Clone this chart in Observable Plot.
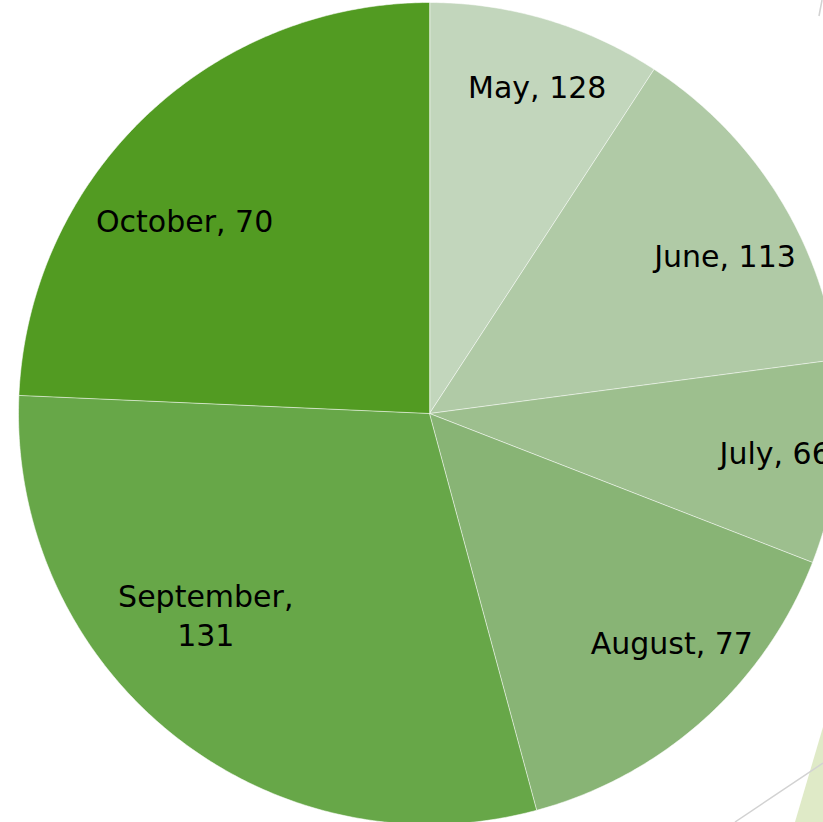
<!DOCTYPE html>
<html>
<head>
<meta charset="utf-8">
<script src="https://cdn.jsdelivr.net/npm/d3@7"></script>
<script src="https://cdn.jsdelivr.net/npm/@observablehq/plot@0.6"></script>
<style>
  html, body { margin: 0; padding: 0; background: #ffffff; overflow: hidden; }
  #wrap { position: relative; width: 823px; height: 822px; overflow: hidden; }
  #deco { position: absolute; left: 0; top: 0; }
  #chart { position: absolute; left: 0; top: 0; }
</style>
</head>
<body>
<div id="wrap">
  <svg id="deco" width="823" height="822" aria-hidden="true">
    <polygon points="795,822 823,727 823,822" fill="#dfeac7"></polygon>
    <line x1="735" y1="822" x2="823" y2="763" stroke="#d2d2d2" stroke-width="1.5"></line>
    <line x1="822" y1="0" x2="819" y2="16" stroke="#d2d2d2" stroke-width="1.5"></line>
  </svg>
  <div id="chart"></div>
</div>
<script>
// ---- data ----
const months = ["May", "June", "July", "August", "September", "October"];
const labelValues = [128, 113, 66, 77, 131, 70];          // numbers printed in the labels
const sliceShares = [9.2, 13.7, 8.0, 14.9, 29.9, 24.3];    // slice sizes (% of the circle)
const sliceColors = ["#c2d6bc", "#b0caa6", "#9dbf8e", "#88b475", "#67a748", "#529b22"];

// ---- build tables ----
const rows = months.map((m, i) => ({ month: m, value: labelValues[i], share: sliceShares[i] }));
const arcs = d3.pie().sort(null).value(d => d.share)(rows);

// polygon outline of each slice in unit-circle coordinates (y up, angle clockwise from 12 o'clock)
const outline = [];
for (const a of arcs) {
  outline.push({ month: a.data.month, x: 0, y: 0 });
  const steps = Math.max(2, Math.ceil((a.endAngle - a.startAngle) / (Math.PI / 360)));
  for (let k = 0; k <= steps; ++k) {
    const t = a.startAngle + (a.endAngle - a.startAngle) * k / steps;
    outline.push({ month: a.data.month, x: Math.sin(t), y: Math.cos(t) });
  }
}

// "best fit" style label placement: wide slices pull their label inward and
// toward the horizontal axis, narrow slices keep it near the rim.
const labels = arcs.map(a => {
  const w = a.endAngle - a.startAngle;                 // slice width (rad)
  const mid = (a.startAngle + a.endAngle) / 2;
  const target = Math.sin(mid) >= 0 ? Math.PI / 2 : 3 * Math.PI / 2;
  const dir = Math.sign(target - mid);
  const t = mid + dir * 0.09 * w * Math.abs(Math.sin(2 * mid));
  const r = 0.888 - 0.0837 * w;
  const name = a.data.month;
  const text = name === "September" ? `${name},\n${a.data.value}` : `${name}, ${a.data.value}`;
  return { month: name, text, x: r * Math.sin(t), y: r * Math.cos(t) };
});

// ---- layout (pie centre and radius in pixels) ----
const W = 823, H = 822, CX = 429, CY = 413, R = 411;

const chart = Plot.plot({
  width: W,
  height: H,
  margin: 0,
  x: { domain: [-CX / R, (W - CX) / R], range: [0, W], axis: null },
  y: { domain: [-(H - CY) / R, CY / R], range: [H, 0], axis: null },
  color: { domain: months, range: sliceColors },
  style: { background: "transparent", overflow: "hidden" },
  marks: [
    Plot.line(outline, {
      x: "x", y: "y", z: "month", fill: "month",
      stroke: "#ffffff", strokeOpacity: 0.55, strokeWidth: 1,
      curve: "linear-closed"
    }),
    Plot.text(labels, {
      x: "x", y: "y", text: "text",
      fontSize: 30, fontFamily: "DejaVu Sans", fill: "#000000",
      textAnchor: "middle", lineAnchor: "middle", lineHeight: 1.3
    })
  ]
});
document.getElementById("chart").appendChild(chart);
</script>
</body>
</html>
